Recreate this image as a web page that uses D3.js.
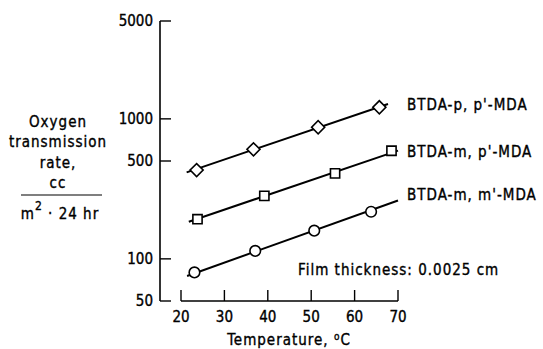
<!DOCTYPE html>
<html><head><meta charset="utf-8">
<script src="https://cdn.jsdelivr.net/npm/d3@7"></script>
<style>
body{margin:0;background:#fff;}
text{font-family:"DejaVu Sans Condensed","Liberation Sans Narrow","DejaVu Sans",sans-serif;fill:#000;stroke:#000;stroke-width:0.35px;}
</style></head><body>
<svg id="c" width="543" height="349"></svg>
<script>
// Data
const xTicks = [20, 30, 40, 50, 60, 70];
const yTicks = [50, 100, 500, 1000, 5000];
const seriesNames = ["BTDA-p, p'-MDA", "BTDA-m, p'-MDA", "BTDA-m, m'-MDA"];
const seriesShapes = ["diamond", "square", "circle"];
const tempPP = [23.6, 36.7, 51.6, 65.7];
const ratePP = [431, 606, 871, 1210];
const tempMP = [23.8, 39.2, 55.5, 68.5];
const rateMP = [192, 282, 408, 592];
const tempMM = [23.1, 37.1, 50.7, 63.8];
const rateMM = [80, 114, 159, 217];
// fitted lines: [startT, endT], [startRate, endRate]
const fitTempPP = [21.3, 67.7], fitRatePP = [415, 1278];
const fitTempMP = [21.8, 70.0], fitRateMP = [184, 593];
const fitTempMM = [21.4, 70.0], fitRateMM = [75.5, 261];

const svg = d3.select("#c");
const x = d3.scaleLinear().domain([20, 70]).range([181, 398]);
const y = d3.scaleLog().domain([50, 5000]).range([301, 21]);

// Y axis
svg.append("line").attr("x1",160).attr("x2",160).attr("y1",y(5000)).attr("y2",y(50))
  .attr("stroke","#000").attr("stroke-width",1.6);
svg.selectAll(".yt").data(yTicks).enter().append("line")
  .attr("x1",160).attr("x2",171).attr("y1",d=>y(d)).attr("y2",d=>y(d))
  .attr("stroke","#000").attr("stroke-width",1.4);
svg.selectAll(".yl").data(yTicks).enter().append("text")
  .attr("x",153).attr("y",d=>y(d)).attr("dy","0.36em").attr("text-anchor","end")
  .attr("font-size",15).text(d=>d);

// X axis
svg.append("line").attr("x1",x(20)).attr("x2",x(70)).attr("y1",301).attr("y2",301)
  .attr("stroke","#000").attr("stroke-width",1.6);
svg.selectAll(".xt").data(xTicks).enter().append("line")
  .attr("x1",d=>x(d)).attr("x2",d=>x(d)).attr("y1",301).attr("y2",290)
  .attr("stroke","#000").attr("stroke-width",1.4);
svg.selectAll(".xl").data(xTicks).enter().append("text")
  .attr("x",d=>x(d)).attr("y",317).attr("dy","0.36em").attr("text-anchor","middle")
  .attr("font-size",15).text(d=>d);
const xt = svg.append("text").attr("x",289).attr("y",345).attr("text-anchor","middle")
  .attr("font-size",15).attr("letter-spacing",1);
xt.append("tspan").text("Temperature, ");
xt.append("tspan").attr("font-size",10).attr("dy",-5).text("o");
xt.append("tspan").attr("dy",5).text("C");

// Y title
const yl = [["Oxygen",127],["transmission",147],["rate,",168],["cc",188]];
yl.forEach(([t,yy])=>svg.append("text").attr("x",58).attr("y",yy).attr("text-anchor","middle")
  .attr("font-size",15).attr("letter-spacing",1).text(t));
svg.append("line").attr("x1",21).attr("x2",102).attr("y1",195).attr("y2",195).attr("stroke","#000").attr("stroke-width",1.2);
const yb = svg.append("text").attr("x",60).attr("y",219).attr("text-anchor","middle")
  .attr("font-size",15).attr("letter-spacing",1);
yb.append("tspan").text("m");
yb.append("tspan").attr("font-size",12).attr("dy",-9).text("2");
yb.append("tspan").attr("dy",9).text(" \u00B7 24 hr");

// Series
const series = [
  {t: tempPP, r: ratePP, ft: fitTempPP, fr: fitRatePP},
  {t: tempMP, r: rateMP, ft: fitTempMP, fr: fitRateMP},
  {t: tempMM, r: rateMM, ft: fitTempMM, fr: fitRateMM}
];
const symType = {diamond: d3.symbolSquare, square: d3.symbolSquare, circle: d3.symbolCircle};
const symSize = {diamond: 85, square: 85, circle: 88};
series.forEach((s,i)=>{
  const line = d3.line().x(d=>x(d[0])).y(d=>y(d[1]));
  svg.append("path").attr("d", line(d3.zip(s.ft, s.fr)))
    .attr("fill","none").attr("stroke","#000").attr("stroke-width",2);
  const sh = seriesShapes[i];
  svg.selectAll(".m"+i).data(d3.zip(s.t, s.r)).enter().append("path")
    .attr("d", d3.symbol().type(symType[sh]).size(symSize[sh]))
    .attr("transform", d=>`translate(${x(d[0])},${y(d[1])})` + (sh==="diamond"?" rotate(45)":""))
    .attr("fill","#fff").attr("stroke","#000").attr("stroke-width",1.6);
});
// Labels
const labelY = [105, 152, 195];
seriesNames.forEach((n,i)=>svg.append("text").attr("x",407).attr("y",labelY[i]).attr("dy","0.36em")
  .attr("font-size",15).attr("letter-spacing",1).text(n));
svg.append("text").attr("x",298).attr("y",270).attr("dy","0.36em").attr("font-size",15)
  .attr("letter-spacing",1).text("Film thickness: 0.0025 cm");
</script></body></html>
